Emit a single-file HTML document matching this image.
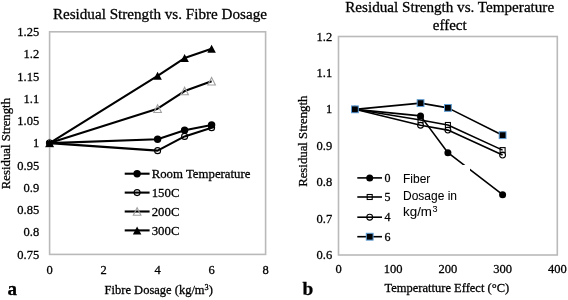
<!DOCTYPE html><html><head><meta charset="utf-8"><style>html,body{margin:0;padding:0;background:#fff;width:568px;height:300px;overflow:hidden}svg{display:block;filter:blur(0.3px)}text{font-family:"Liberation Serif",serif;fill:#000;stroke:#000;stroke-width:0.28px}</style></head><body>
<svg width="568" height="300" viewBox="0 0 568 300">
<rect width="568" height="300" fill="#fff"/>
<rect x="49.6" y="31.8" width="216.00000000000003" height="222.6" fill="none" stroke="#bababa" stroke-width="1.6"/>
<text x="159.9" y="18.6" font-size="15.15" text-anchor="middle">Residual Strength vs. Fibre Dosage</text>
<text x="39.2" y="36.10" font-size="12.5" text-anchor="end">1.25</text>
<text x="39.2" y="58.36" font-size="12.5" text-anchor="end">1.2</text>
<text x="39.2" y="80.62" font-size="12.5" text-anchor="end">1.15</text>
<text x="39.2" y="102.88" font-size="12.5" text-anchor="end">1.1</text>
<text x="39.2" y="125.14" font-size="12.5" text-anchor="end">1.05</text>
<text x="39.2" y="147.40" font-size="12.5" text-anchor="end">1</text>
<text x="39.2" y="169.66" font-size="12.5" text-anchor="end">0.95</text>
<text x="39.2" y="191.92" font-size="12.5" text-anchor="end">0.9</text>
<text x="39.2" y="214.18" font-size="12.5" text-anchor="end">0.85</text>
<text x="39.2" y="236.44" font-size="12.5" text-anchor="end">0.8</text>
<text x="39.2" y="258.70" font-size="12.5" text-anchor="end">0.75</text>
<text x="49.60" y="273.6" font-size="12.5" text-anchor="middle">0</text>
<text x="103.60" y="273.6" font-size="12.5" text-anchor="middle">2</text>
<text x="157.60" y="273.6" font-size="12.5" text-anchor="middle">4</text>
<text x="211.60" y="273.6" font-size="12.5" text-anchor="middle">6</text>
<text x="265.60" y="273.6" font-size="12.5" text-anchor="middle">8</text>
<text transform="translate(10,143.6) rotate(-90)" font-size="12.8" text-anchor="middle">Residual Strength</text>
<text x="104.6" y="294.4" font-size="12.5">Fibre Dosage (kg/m<tspan font-size="8.3" dy="-4.5">3</tspan><tspan dy="4.5">)</tspan></text>
<text x="7.6" y="295.1" font-size="19" font-weight="bold">a</text>
<polyline points="49.60,143.10 157.60,139.23 184.60,130.32 211.60,125.02" fill="none" stroke="#000" stroke-width="2.1" stroke-linejoin="round"/>
<polyline points="49.60,143.10 157.60,150.67 184.60,136.42 211.60,127.65" fill="none" stroke="#000" stroke-width="2.1" stroke-linejoin="round"/>
<polyline points="49.60,143.10 157.60,108.64 184.60,91.01 211.60,81.22" fill="none" stroke="#000" stroke-width="2.1" stroke-linejoin="round"/>
<polyline points="49.60,143.10 157.60,75.87 184.60,58.07 211.60,48.72" fill="none" stroke="#000" stroke-width="2.1" stroke-linejoin="round"/>
<circle cx="49.60" cy="143.10" r="3.7" fill="#000"/>
<circle cx="157.60" cy="139.23" r="3.7" fill="#000"/>
<circle cx="184.60" cy="130.32" r="3.7" fill="#000"/>
<circle cx="211.60" cy="125.02" r="3.7" fill="#000"/>
<circle cx="49.60" cy="143.10" r="3.0" fill="none" stroke="#000" stroke-width="1.1"/>
<circle cx="157.60" cy="150.67" r="3.0" fill="none" stroke="#000" stroke-width="1.1"/>
<circle cx="184.60" cy="136.42" r="3.0" fill="none" stroke="#000" stroke-width="1.1"/>
<circle cx="211.60" cy="127.65" r="3.0" fill="none" stroke="#000" stroke-width="1.1"/>
<polygon points="45.80,146.90 49.60,139.30 53.40,146.90" fill="none" stroke="#a0a0a0" stroke-width="1.1"/>
<polygon points="153.80,112.44 157.60,104.84 161.40,112.44" fill="none" stroke="#a0a0a0" stroke-width="1.1"/>
<polygon points="180.80,94.81 184.60,87.21 188.40,94.81" fill="none" stroke="#a0a0a0" stroke-width="1.1"/>
<polygon points="207.80,85.02 211.60,77.42 215.40,85.02" fill="none" stroke="#a0a0a0" stroke-width="1.1"/>
<polygon points="45.35,147.10 49.60,139.10 53.85,147.10" fill="#000"/>
<polygon points="153.35,79.87 157.60,71.87 161.85,79.87" fill="#000"/>
<polygon points="180.35,62.07 184.60,54.07 188.85,62.07" fill="#000"/>
<polygon points="207.35,52.72 211.60,44.72 215.85,52.72" fill="#000"/>
<circle cx="49.60" cy="143.70" r="3.3" fill="#000"/>
<line x1="124.7" y1="173.70" x2="149.6" y2="173.70" stroke="#000" stroke-width="2.1"/>
<circle cx="137.10" cy="173.70" r="3.7" fill="#000"/>
<text x="151.7" y="178.00" font-size="12.8">Room Temperature</text>
<line x1="124.7" y1="192.60" x2="149.6" y2="192.60" stroke="#000" stroke-width="2.1"/>
<circle cx="137.10" cy="192.60" r="3.0" fill="none" stroke="#000" stroke-width="1.1"/>
<text x="151.7" y="196.90" font-size="12.8">150C</text>
<line x1="124.7" y1="211.50" x2="149.6" y2="211.50" stroke="#000" stroke-width="2.1"/>
<polygon points="133.30,215.30 137.10,207.70 140.90,215.30" fill="none" stroke="#a0a0a0" stroke-width="1.1"/>
<text x="151.7" y="215.80" font-size="12.8">200C</text>
<line x1="124.7" y1="230.40" x2="149.6" y2="230.40" stroke="#000" stroke-width="2.1"/>
<polygon points="132.85,234.40 137.10,226.40 141.35,234.40" fill="#000"/>
<text x="151.7" y="234.70" font-size="12.8">300C</text>
<rect x="338.5" y="36.5" width="218.80" height="218.5" fill="none" stroke="#bababa" stroke-width="1.6"/>
<text x="449.7" y="12.3" font-size="15.15" text-anchor="middle">Residual Strength vs. Temperature</text>
<text x="449.7" y="29.6" font-size="15" text-anchor="middle">effect</text>
<text x="332.2" y="40.50" font-size="12.5" text-anchor="end">1.2</text>
<text x="332.2" y="76.92" font-size="12.5" text-anchor="end">1.1</text>
<text x="332.2" y="113.33" font-size="12.5" text-anchor="end">1</text>
<text x="332.2" y="149.75" font-size="12.5" text-anchor="end">0.9</text>
<text x="332.2" y="186.17" font-size="12.5" text-anchor="end">0.8</text>
<text x="332.2" y="222.58" font-size="12.5" text-anchor="end">0.7</text>
<text x="332.2" y="259.00" font-size="12.5" text-anchor="end">0.6</text>
<text x="338.50" y="272.5" font-size="12.5" text-anchor="middle">0</text>
<text x="393.20" y="272.5" font-size="12.5" text-anchor="middle">100</text>
<text x="447.90" y="272.5" font-size="12.5" text-anchor="middle">200</text>
<text x="502.60" y="272.5" font-size="12.5" text-anchor="middle">300</text>
<text x="557.30" y="272.5" font-size="12.5" text-anchor="middle">400</text>
<text transform="translate(307,141.2) rotate(-90)" font-size="12.8" text-anchor="middle">Residual Strength</text>
<text x="384.5" y="291.7" font-size="12.5">Temperatture Effect (°C)</text>
<text x="302.5" y="295.1" font-size="19.4" font-weight="bold">b</text>
<polyline points="354.91,109.33 420.55,115.89 447.90,152.67 502.60,194.66" fill="none" stroke="#000" stroke-width="1.6" stroke-linejoin="round"/>
<polyline points="354.91,109.33 420.55,120.04 447.90,124.99 502.60,150.12" fill="none" stroke="#000" stroke-width="1.6" stroke-linejoin="round"/>
<polyline points="354.91,109.33 420.55,125.25 447.90,130.09 502.60,155.04" fill="none" stroke="#000" stroke-width="1.6" stroke-linejoin="round"/>
<polyline points="354.91,109.33 420.55,103.14 447.90,107.88 502.60,135.19" fill="none" stroke="#000" stroke-width="1.6" stroke-linejoin="round"/>
<circle cx="354.91" cy="109.33" r="3.5" fill="#000"/>
<circle cx="420.55" cy="115.89" r="3.5" fill="#000"/>
<circle cx="447.90" cy="152.67" r="3.5" fill="#000"/>
<circle cx="502.60" cy="194.66" r="3.5" fill="#000"/>
<rect x="352.41" y="106.83" width="5" height="5" fill="none" stroke="#000" stroke-width="1.1"/>
<rect x="418.05" y="117.54" width="5" height="5" fill="none" stroke="#000" stroke-width="1.1"/>
<rect x="445.40" y="122.49" width="5" height="5" fill="none" stroke="#000" stroke-width="1.1"/>
<rect x="500.10" y="147.62" width="5" height="5" fill="none" stroke="#000" stroke-width="1.1"/>
<circle cx="354.91" cy="109.33" r="2.9" fill="none" stroke="#000" stroke-width="1.1"/>
<circle cx="420.55" cy="125.25" r="2.9" fill="none" stroke="#000" stroke-width="1.1"/>
<circle cx="447.90" cy="130.09" r="2.9" fill="none" stroke="#000" stroke-width="1.1"/>
<circle cx="502.60" cy="155.04" r="2.9" fill="none" stroke="#000" stroke-width="1.1"/>
<rect x="351.51" y="105.93" width="6.8" height="6.8" fill="#000" stroke="#5b9bd5" stroke-width="1.0"/>
<rect x="417.15" y="99.74" width="6.8" height="6.8" fill="#000" stroke="#5b9bd5" stroke-width="1.0"/>
<rect x="444.50" y="104.48" width="6.8" height="6.8" fill="#000" stroke="#5b9bd5" stroke-width="1.0"/>
<rect x="499.20" y="131.79" width="6.8" height="6.8" fill="#000" stroke="#5b9bd5" stroke-width="1.0"/>
<rect x="398" y="165" width="72" height="58" fill="#fff"/>
<text x="403" y="182.8" style="font-family:'Liberation Sans',sans-serif;stroke-width:0.05px" font-size="12">Fiber</text>
<text x="403" y="199.9" style="font-family:'Liberation Sans',sans-serif;stroke-width:0.05px" font-size="12">Dosage in</text>
<text x="403" y="216.3" style="font-family:'Liberation Sans',sans-serif;stroke-width:0.05px" font-size="12"><tspan textLength="29" lengthAdjust="spacingAndGlyphs">kg/m</tspan><tspan font-size="9" dx="0.4" dy="-4.6">3</tspan></text>
<line x1="357.3" y1="177.90" x2="382" y2="177.90" stroke="#000" stroke-width="1.6"/>
<circle cx="369.70" cy="177.90" r="3.5" fill="#000"/>
<text x="384.6" y="181.90" font-size="12">0</text>
<line x1="357.3" y1="197.00" x2="382" y2="197.00" stroke="#000" stroke-width="1.6"/>
<rect x="367.20" y="194.50" width="5" height="5" fill="none" stroke="#000" stroke-width="1.1"/>
<text x="384.6" y="201.00" font-size="12">5</text>
<line x1="357.3" y1="217.20" x2="382" y2="217.20" stroke="#000" stroke-width="1.6"/>
<circle cx="369.70" cy="217.20" r="2.9" fill="none" stroke="#000" stroke-width="1.1"/>
<text x="384.6" y="221.20" font-size="12">4</text>
<line x1="357.3" y1="236.70" x2="382" y2="236.70" stroke="#000" stroke-width="1.6"/>
<rect x="366.30" y="233.30" width="6.8" height="6.8" fill="#000" stroke="#5b9bd5" stroke-width="1.0"/>
<text x="384.6" y="240.70" font-size="12">6</text>
</svg></body></html>
